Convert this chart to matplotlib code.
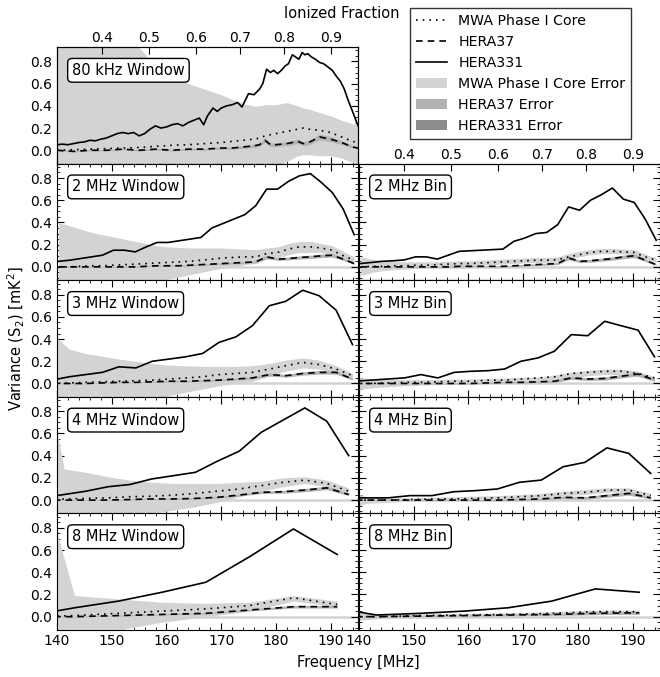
import numpy as np
import matplotlib
matplotlib.use('Agg')
import matplotlib.pyplot as plt
from matplotlib.lines import Line2D
from matplotlib.patches import Patch
from matplotlib.ticker import MultipleLocator

# ---- 80 kHz window ----
f80_line = [140.0, 141.0, 142.0, 143.0, 144.0, 145.0, 146.0, 147.0, 148.0, 149.0,
            150.0, 151.0, 152.0, 153.0, 154.0, 155.0, 156.0, 157.0, 158.0, 159.0,
            160.0, 161.0, 162.0, 163.0, 164.0, 165.0, 166.0, 166.8, 167.5, 168.5,
            169.3, 170.0, 171.0, 172.0, 173.0, 173.8, 174.5, 175.0, 176.0, 177.0,
            177.6, 178.3, 179.0, 179.6, 180.3, 181.0, 181.7, 182.3, 183.0, 183.6,
            184.2, 184.8, 185.3, 185.8, 186.5, 187.2, 188.0, 188.7, 189.5, 190.3,
            191.0, 191.8, 192.5, 193.2, 194.0, 195.0]
hera331_80 = [0.05, 0.055, 0.05, 0.06, 0.07, 0.075, 0.09, 0.085, 0.10, 0.11,
              0.13, 0.15, 0.16, 0.15, 0.16, 0.13, 0.15, 0.19, 0.22, 0.20,
              0.21, 0.23, 0.24, 0.22, 0.25, 0.27, 0.29, 0.23, 0.31, 0.38,
              0.35, 0.38, 0.40, 0.41, 0.43, 0.39, 0.46, 0.51, 0.50, 0.55,
              0.60, 0.73, 0.70, 0.72, 0.69, 0.72, 0.76, 0.78, 0.86, 0.84,
              0.82, 0.88, 0.86, 0.87, 0.84, 0.82, 0.79, 0.78, 0.75, 0.72,
              0.67, 0.62, 0.55, 0.45, 0.35, 0.22]
f80 = [140, 143, 146, 149, 152, 155, 158, 161, 164, 167, 170, 172, 174, 176,
       177, 178, 179, 180, 182, 184, 185, 186, 188, 190, 192, 194, 195]
mwa_80 = [0.0, 0.005, 0.01, 0.015, 0.02, 0.025, 0.035, 0.045, 0.05, 0.06, 0.07, 0.08, 0.09, 0.10,
          0.11, 0.13, 0.14, 0.15, 0.17, 0.19, 0.20, 0.19, 0.18, 0.16, 0.12, 0.08, 0.07]
hera37_80 = [0.0, -0.01, 0.0, 0.0, 0.01, 0.0, 0.01, 0.0, 0.01, 0.01, 0.02, 0.02, 0.03, 0.04,
             0.05, 0.09, 0.05, 0.05, 0.06, 0.08, 0.06, 0.07, 0.12, 0.10, 0.07, 0.03, 0.02]
mwa_hi_80 = [1.1, 1.05, 1.0, 0.98, 0.96, 0.93, 0.75, 0.65, 0.60, 0.55, 0.50, 0.46, 0.42, 0.40,
             0.40, 0.41, 0.41, 0.41, 0.43, 0.40, 0.38, 0.37, 0.34, 0.31, 0.27, 0.24, 0.22]
mwa_lo_80 = [-1.0, -0.9, -0.8, -0.7, -0.6, -0.55, -0.45, -0.4, -0.35, -0.3, -0.25, -0.22, -0.2, -0.18,
             -0.17, -0.16, -0.15, -0.14, -0.1, -0.05, -0.04, -0.04, -0.05, -0.05, -0.07, -0.11, -0.13]
h37_err_80 = [0.005, 0.005, 0.005, 0.005, 0.006, 0.006, 0.007, 0.007, 0.008, 0.008, 0.01, 0.01, 0.012, 0.014,
              0.015, 0.02, 0.016, 0.016, 0.018, 0.02, 0.018, 0.02, 0.025, 0.022, 0.018, 0.01, 0.008]

# ---- 2 MHz ----
f2 = [140.3, 142.3, 144.3, 146.3, 148.3, 150.3, 152.3, 154.3, 156.3, 158.3,
      160.3, 162.3, 164.3, 166.3, 168.3, 170.3, 172.3, 174.3, 176.3, 178.3,
      180.3, 182.3, 184.3, 186.3, 188.3, 190.3, 192.3, 194.3]
hera331_w2 = [0.05, 0.06, 0.075, 0.09, 0.105, 0.15, 0.15, 0.135, 0.18, 0.22,
              0.22, 0.235, 0.25, 0.265, 0.35, 0.39, 0.43, 0.47, 0.55, 0.70,
              0.70, 0.77, 0.82, 0.84, 0.76, 0.67, 0.52, 0.29]
mwa_w2 = [0.0, 0.0, 0.005, 0.01, 0.01, 0.015, 0.02, 0.025, 0.03, 0.035,
          0.04, 0.045, 0.05, 0.06, 0.07, 0.08, 0.085, 0.09, 0.09, 0.12,
          0.13, 0.16, 0.18, 0.18, 0.17, 0.15, 0.10, 0.06]
hera37_w2 = [0.0, 0.0, 0.0, 0.0, 0.0, 0.0, 0.0, 0.0, 0.005, 0.01,
             0.01, 0.01, 0.015, 0.02, 0.025, 0.03, 0.035, 0.04, 0.045, 0.09,
             0.07, 0.075, 0.085, 0.09, 0.10, 0.105, 0.07, 0.03]
mwa_hi_w2 = [0.40, 0.37, 0.34, 0.31, 0.29, 0.27, 0.25, 0.23, 0.21, 0.19,
             0.18, 0.175, 0.17, 0.17, 0.17, 0.17, 0.165, 0.16, 0.155, 0.17,
             0.18, 0.21, 0.23, 0.23, 0.21, 0.19, 0.14, 0.09]
mwa_lo_w2 = [-0.5, -0.44, -0.38, -0.33, -0.29, -0.25, -0.21, -0.18, -0.15, -0.13,
             -0.11, -0.09, -0.07, -0.05, -0.03, -0.01, 0.0, 0.02, 0.03, 0.07,
             0.08, 0.11, 0.13, 0.13, 0.13, 0.11, 0.06, 0.03]
hera331_b2 = [0.03, 0.04, 0.05, 0.055, 0.063, 0.09, 0.09, 0.07, 0.105, 0.14,
              0.145, 0.15, 0.155, 0.16, 0.23, 0.26, 0.30, 0.31, 0.38, 0.54,
              0.51, 0.60, 0.65, 0.71, 0.61, 0.58, 0.43, 0.24]
mwa_b2 = [0.0, 0.005, 0.005, 0.01, 0.01, 0.015, 0.015, 0.02, 0.025, 0.03,
          0.03, 0.035, 0.04, 0.045, 0.05, 0.055, 0.06, 0.06, 0.065, 0.09,
          0.11, 0.13, 0.14, 0.14, 0.135, 0.13, 0.09, 0.06]
hera37_b2 = [0.0, 0.0, 0.0, 0.0, 0.0, 0.0, 0.0, 0.0, 0.0, 0.005,
             0.005, 0.005, 0.005, 0.005, 0.01, 0.015, 0.02, 0.025, 0.03, 0.08,
             0.05, 0.055, 0.065, 0.075, 0.09, 0.10, 0.06, 0.02]
mwa_hi_b2 = [0.09, 0.07, 0.06, 0.05, 0.045, 0.045, 0.045, 0.045, 0.05, 0.055,
             0.055, 0.06, 0.065, 0.07, 0.075, 0.08, 0.085, 0.085, 0.09, 0.12,
             0.14, 0.155, 0.165, 0.165, 0.16, 0.155, 0.115, 0.08]
mwa_lo_b2 = [-0.08, -0.05, -0.035, -0.025, -0.02, -0.015, -0.01, -0.005, 0.0, 0.005,
             0.01, 0.015, 0.02, 0.025, 0.03, 0.035, 0.04, 0.04, 0.045, 0.07,
             0.09, 0.11, 0.12, 0.12, 0.115, 0.11, 0.07, 0.04]
h37_err_2 = [0.003, 0.003, 0.003, 0.003, 0.003, 0.004, 0.004, 0.004, 0.004, 0.005,
             0.005, 0.005, 0.006, 0.006, 0.007, 0.008, 0.008, 0.009, 0.01, 0.015,
             0.012, 0.013, 0.014, 0.015, 0.016, 0.017, 0.012, 0.008]

# ---- 3 MHz ----
f3 = [139.1, 142.2, 145.2, 148.3, 151.3, 154.4, 157.4, 160.5, 163.5, 166.6,
      169.6, 172.7, 175.7, 178.8, 181.8, 184.9, 187.9, 191.0, 194.0]
hera331_w3 = [0.03, 0.06, 0.08, 0.10, 0.15, 0.14, 0.20, 0.22, 0.24, 0.27,
              0.37, 0.42, 0.52, 0.70, 0.74, 0.84, 0.79, 0.66, 0.35]
mwa_w3 = [0.0, 0.005, 0.01, 0.015, 0.02, 0.025, 0.03, 0.04, 0.05, 0.06,
          0.08, 0.09, 0.10, 0.13, 0.16, 0.19, 0.17, 0.13, 0.07]
hera37_w3 = [0.0, 0.0, 0.0, 0.005, 0.01, 0.01, 0.015, 0.02, 0.02, 0.025,
             0.03, 0.04, 0.05, 0.08, 0.07, 0.09, 0.10, 0.10, 0.04]
mwa_hi_w3 = [0.45, 0.31, 0.27, 0.245, 0.22, 0.20, 0.18, 0.165, 0.16, 0.155,
             0.155, 0.155, 0.16, 0.18, 0.21, 0.23, 0.21, 0.16, 0.09]
mwa_lo_w3 = [-0.6, -0.42, -0.33, -0.27, -0.22, -0.18, -0.14, -0.11, -0.08, -0.05,
             -0.02, 0.0, 0.02, 0.07, 0.11, 0.14, 0.13, 0.09, 0.04]
hera331_b3 = [0.02, 0.03, 0.04, 0.05, 0.08, 0.05, 0.10, 0.11, 0.115, 0.13,
              0.20, 0.23, 0.29, 0.44, 0.43, 0.56, 0.52, 0.48, 0.24]
mwa_b3 = [0.0, 0.0, 0.005, 0.01, 0.01, 0.015, 0.02, 0.02, 0.03, 0.03,
          0.04, 0.05, 0.06, 0.09, 0.10, 0.11, 0.11, 0.09, 0.05]
hera37_b3 = [0.0, 0.0, 0.0, 0.0, 0.0, 0.0, 0.0, 0.0, 0.005, 0.01,
             0.01, 0.015, 0.02, 0.05, 0.04, 0.045, 0.065, 0.085, 0.03]
mwa_hi_b3 = [0.06, 0.04, 0.035, 0.035, 0.035, 0.035, 0.04, 0.04, 0.045, 0.05,
             0.055, 0.06, 0.075, 0.10, 0.12, 0.13, 0.13, 0.11, 0.06]
mwa_lo_b3 = [-0.06, -0.04, -0.03, -0.02, -0.015, -0.01, -0.005, 0.0, 0.005, 0.01,
             0.015, 0.02, 0.03, 0.05, 0.07, 0.08, 0.08, 0.06, 0.02]
h37_err_3 = [0.003, 0.003, 0.003, 0.003, 0.004, 0.004, 0.005, 0.005, 0.006, 0.006,
             0.007, 0.008, 0.01, 0.014, 0.013, 0.015, 0.016, 0.016, 0.01]

# ---- 4 MHz ----
f4 = [137.3, 141.3, 145.3, 149.3, 153.3, 157.3, 161.3, 165.3, 169.3, 173.3,
      177.3, 181.3, 185.3, 189.3, 193.3]
hera331_w4 = [0.02, 0.05, 0.08, 0.12, 0.14, 0.19, 0.22, 0.25, 0.35, 0.44,
              0.61, 0.72, 0.83, 0.71, 0.40]
mwa_w4 = [0.0, 0.01, 0.015, 0.02, 0.03, 0.035, 0.045, 0.06, 0.08, 0.10,
          0.13, 0.16, 0.18, 0.15, 0.08]
hera37_w4 = [0.0, 0.0, 0.0, 0.0, 0.005, 0.01, 0.01, 0.015, 0.025, 0.045,
             0.07, 0.075, 0.09, 0.11, 0.05]
mwa_hi_w4 = [1.33, 0.28, 0.25, 0.21, 0.18, 0.16, 0.15, 0.15, 0.15, 0.16,
             0.17, 0.20, 0.21, 0.18, 0.11]
mwa_lo_w4 = [-1.3, -0.35, -0.25, -0.18, -0.14, -0.12, -0.09, -0.06, -0.02, 0.03,
             0.08, 0.12, 0.15, 0.12, 0.05]
hera331_b4 = [0.02, 0.02, 0.02, 0.04, 0.04, 0.075, 0.085, 0.10, 0.16, 0.18,
              0.30, 0.34, 0.47, 0.42, 0.24]
mwa_b4 = [0.0, 0.0, 0.0, 0.005, 0.01, 0.01, 0.015, 0.02, 0.03, 0.04,
          0.06, 0.07, 0.09, 0.09, 0.04]
hera37_b4 = [0.0, 0.0, 0.0, 0.0, 0.0, 0.0, 0.0, 0.0, 0.005, 0.01,
             0.025, 0.02, 0.04, 0.06, 0.02]
mwa_hi_b4 = [0.10, 0.03, 0.02, 0.02, 0.025, 0.03, 0.035, 0.04, 0.05, 0.06,
             0.08, 0.095, 0.11, 0.11, 0.06]
mwa_lo_b4 = [-0.10, -0.03, -0.02, -0.01, -0.01, 0.0, 0.0, 0.0, 0.01, 0.02,
             0.04, 0.05, 0.07, 0.07, 0.02]
h37_err_4 = [0.003, 0.003, 0.003, 0.003, 0.004, 0.004, 0.005, 0.006, 0.007, 0.009,
             0.012, 0.013, 0.015, 0.016, 0.01]

# ---- 8 MHz ----
f8 = [135.2, 143.2, 151.2, 159.2, 167.2, 175.2, 183.2, 191.2]
hera331_w8 = [0.01, 0.08, 0.14, 0.22, 0.31, 0.54, 0.79, 0.56]
mwa_w8 = [0.0, 0.01, 0.03, 0.05, 0.07, 0.10, 0.17, 0.11]
hera37_w8 = [0.0, 0.0, 0.01, 0.02, 0.03, 0.06, 0.09, 0.09]
mwa_hi_w8 = [1.6, 0.19, 0.16, 0.13, 0.12, 0.13, 0.19, 0.14]
mwa_lo_w8 = [-1.6, -0.3, -0.12, -0.05, 0.0, 0.05, 0.14, 0.09]
hera331_b8 = [0.08, 0.015, 0.03, 0.05, 0.08, 0.14, 0.25, 0.22]
mwa_b8 = [0.0, 0.0, 0.01, 0.015, 0.02, 0.03, 0.045, 0.045]
hera37_b8 = [0.0, 0.0, 0.005, 0.01, 0.015, 0.02, 0.03, 0.035]
mwa_hi_b8 = [0.05, 0.02, 0.025, 0.03, 0.035, 0.045, 0.06, 0.06]
mwa_lo_b8 = [-0.05, -0.02, -0.01, -0.005, 0.0, 0.01, 0.02, 0.02]
h37_err_8 = [0.003, 0.003, 0.004, 0.005, 0.006, 0.008, 0.012, 0.012]

# ionized fraction (top axis) as positions in frequency
ion_freq = [148.15, 156.75, 165.4, 173.5, 181.5, 190.1]
ion_labels = ['0.4', '0.5', '0.6', '0.7', '0.8', '0.9']

MWA_C = '#d3d3d3'
H37_C = '#b3b3b3'
H331_C = '#8c8c8c'
DOT = (0, (1, 3))
DASH = (0, (4, 3))


def draw_panel(ax, freq, mwa, hera37, mwa_lo, mwa_hi, h37_err, line_freq, hera331, label):
    ax.axhline(0, color=MWA_C, lw=1.8, zorder=1)
    ax.fill_between(freq, mwa_lo, mwa_hi, color=MWA_C, lw=0, zorder=2)
    h37 = np.array(hera37)
    err = np.array(h37_err)
    ax.fill_between(freq, h37 - err, h37 + err, color=H37_C, lw=0, zorder=3)
    ax.plot(freq, mwa, color='k', ls=DOT, lw=1.2, zorder=4)
    ax.plot(freq, hera37, color='k', ls=DASH, lw=1.2, zorder=4)
    ax.plot(line_freq, hera331, color='k', ls='-', lw=1.2, zorder=5)
    ax.set_xlim(140, 195)
    ax.set_ylim(-0.12, 0.93)
    ax.xaxis.set_major_locator(MultipleLocator(10))
    ax.xaxis.set_minor_locator(MultipleLocator(2))
    ax.yaxis.set_major_locator(MultipleLocator(0.2))
    ax.yaxis.set_minor_locator(MultipleLocator(0.05))
    ax.tick_params(which='both', direction='in', top=True, right=True, labelsize=10)
    ax.tick_params(which='major', length=5)
    ax.tick_params(which='minor', length=2.5)
    ax.tick_params(axis='x', pad=3)
    ax.text(0.05, 0.80, label, transform=ax.transAxes, fontsize=10.5, va='center', ha='left',
            bbox=dict(boxstyle='round,pad=0.3', fc='white', ec='k'), zorder=10)


def ion_axis(ax):
    top = ax.twiny()
    top.set_xlim(ax.get_xlim())
    top.set_xticks(ion_freq)
    top.set_xticklabels(ion_labels)
    top.tick_params(direction='in', length=5, labelsize=10, pad=1.5)
    top.xaxis.set_minor_locator(plt.NullLocator())
    return top


fig = plt.figure(figsize=(6.6, 6.77), dpi=100)

left_x = 57 / 660
right_x = 359 / 660
width = 301 / 660
top_px = 47
row_px = 116.6


def make_ax(col, row):
    x0 = left_x if col == 0 else right_x
    y0 = 1 - (top_px + (row + 1) * row_px) / 677
    return fig.add_axes([x0, y0, width, row_px / 677])


panels = [
    (0, 0, f80, mwa_80, hera37_80, mwa_lo_80, mwa_hi_80, h37_err_80, f80_line, hera331_80, '80 kHz Window'),
    (0, 1, f2, mwa_w2, hera37_w2, mwa_lo_w2, mwa_hi_w2, h37_err_2, f2, hera331_w2, '2 MHz Window'),
    (0, 2, f3, mwa_w3, hera37_w3, mwa_lo_w3, mwa_hi_w3, h37_err_3, f3, hera331_w3, '3 MHz Window'),
    (0, 3, f4, mwa_w4, hera37_w4, mwa_lo_w4, mwa_hi_w4, h37_err_4, f4, hera331_w4, '4 MHz Window'),
    (0, 4, f8, mwa_w8, hera37_w8, mwa_lo_w8, mwa_hi_w8, h37_err_8, f8, hera331_w8, '8 MHz Window'),
    (1, 1, f2, mwa_b2, hera37_b2, mwa_lo_b2, mwa_hi_b2, h37_err_2, f2, hera331_b2, '2 MHz Bin'),
    (1, 2, f3, mwa_b3, hera37_b3, mwa_lo_b3, mwa_hi_b3, h37_err_3, f3, hera331_b3, '3 MHz Bin'),
    (1, 3, f4, mwa_b4, hera37_b4, mwa_lo_b4, mwa_hi_b4, h37_err_4, f4, hera331_b4, '4 MHz Bin'),
    (1, 4, f8, mwa_b8, hera37_b8, mwa_lo_b8, mwa_hi_b8, h37_err_8, f8, hera331_b8, '8 MHz Bin'),
]

for col, row, *args in panels:
    ax = make_ax(col, row)
    draw_panel(ax, *args)
    if col == 1:
        ax.set_yticklabels([])
    if row != 4:
        ax.set_xticklabels([])
    if (col, row) in [(0, 0), (1, 1)]:
        ion_axis(ax)

fig.text(342 / 660, 1 - 14 / 677, 'Ionized Fraction', ha='center', va='center', fontsize=10.5)
fig.text(358 / 660, 1 - 662 / 677, 'Frequency [MHz]', ha='center', va='center', fontsize=10.5)
fig.text(16 / 660, 0.5, 'Variance (S$_2$) [mK$^2$]', ha='center', va='center',
         rotation=90, fontsize=10.5)

handles = [
    Line2D([], [], color='k', ls=DOT, lw=1.2),
    Line2D([], [], color='k', ls=DASH, lw=1.2),
    Line2D([], [], color='k', ls='-', lw=1.2),
    Patch(color=MWA_C, lw=0),
    Patch(color=H37_C, lw=0),
    Patch(color=H331_C, lw=0),
]
labels = ['MWA Phase I Core', 'HERA37', 'HERA331',
          'MWA Phase I Core Error', 'HERA37 Error', 'HERA331 Error']
leg = fig.legend(handles, labels, loc='upper left', bbox_to_anchor=(410 / 660, 1 - 8 / 677),
                 borderaxespad=0, fontsize=10.2, frameon=True, fancybox=False, edgecolor='k',
                 handlelength=2.2, labelspacing=0.5, borderpad=0.4)
leg.get_frame().set_linewidth(1.0)

fig.savefig('out.png', dpi=100)
